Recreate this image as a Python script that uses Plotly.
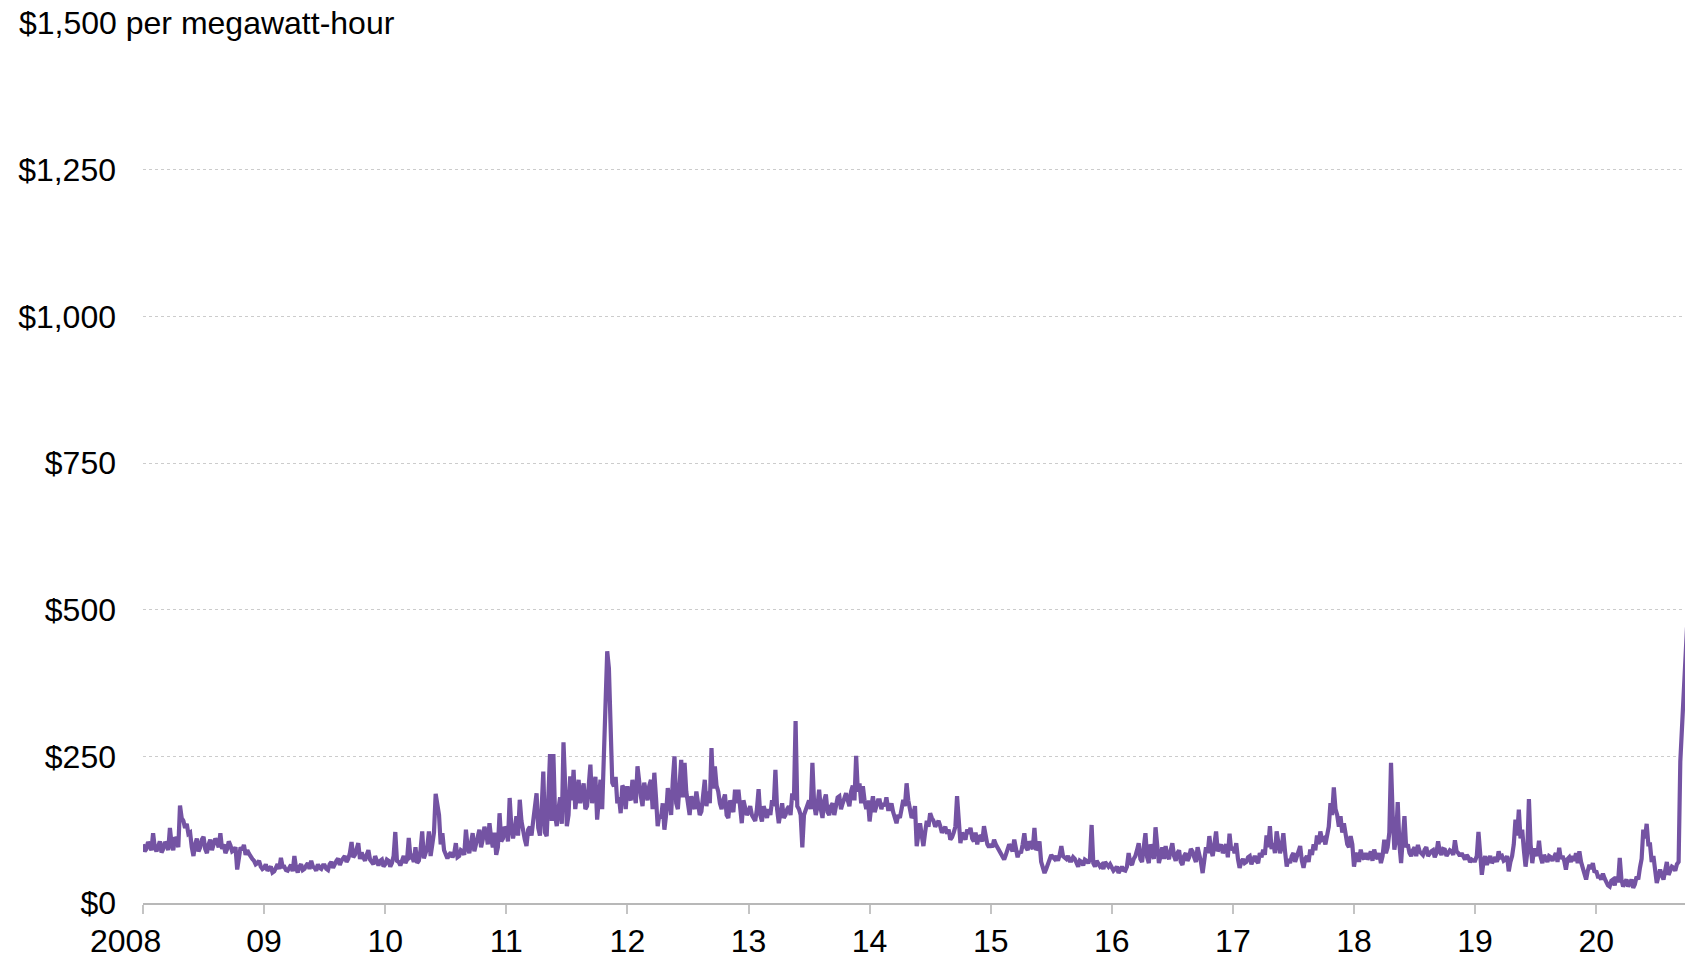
import plotly.graph_objects as go

# Electricity price, $ per megawatt-hour.
# p-arrays: readings at 36 evenly spaced dates per year; q-arrays: readings halfway between them.
p2008 = [100, 92, 98, 119, 88, 105, 92, 100, 128, 90, 108, 166, 140, 135, 120, 80, 110, 95,
         113, 85, 108, 98, 104, 119, 100, 92, 98, 90, 57, 95, 99, 90, 78, 72, 68, 62]
q2008 = [88, 104, 90, 95, 100, 86, 104, 90, 100, 112, 95, 145, 128, 118, 95, 100, 88, 108,
         92, 100, 90, 110, 95, 92, 85, 105, 88, 95, 80, 90, 82, 84, 75, 66, 72, 58]
p2009 = [60, 55, 62, 54, 66, 77, 62, 55, 65, 80, 52, 66, 58, 68, 72, 60, 66, 58,
         64, 56, 70, 68, 76, 72, 80, 75, 104, 82, 102, 86, 72, 90, 70, 80, 64, 74]
q2009 = [66, 58, 52, 60, 58, 62, 56, 60, 54, 60, 62, 56, 64, 58, 62, 55, 60, 64,
         58, 66, 60, 72, 65, 78, 70, 85, 78, 92, 75, 78, 82, 74, 66, 70, 72, 62]
p2010 = [66, 72, 68, 121, 70, 75, 68, 111, 80, 95, 72, 122, 85, 122, 100, 186, 150, 119,
         80, 82, 78, 102, 80, 88, 125, 85, 119, 100, 125, 108, 120, 136, 95, 82, 153, 110]
q2010 = [74, 62, 80, 72, 64, 80, 74, 78, 70, 68, 90, 76, 95, 80, 120, 160, 100, 90,
         76, 86, 84, 78, 90, 82, 95, 100, 88, 115, 95, 130, 100, 110, 120, 95, 105, 130]
p2011 = [125, 179, 110, 148, 176, 120, 97, 130, 140, 187, 115, 224, 114, 254, 254, 131, 180, 274,
         131, 216, 227, 190, 170, 204, 165, 236, 200, 142, 210, 240, 429, 260, 199, 170, 153, 195]
q2011 = [105, 130, 125, 115, 140, 108, 125, 115, 165, 128, 160, 120, 180, 140, 150, 160, 135, 200,
         150, 175, 160, 210, 185, 160, 200, 170, 215, 180, 160, 300, 400, 205, 215, 180, 200, 160]
p2012 = [199, 175, 187, 233, 182, 205, 175, 210, 222, 131, 145, 125, 196, 150, 250, 160, 244, 239,
         165, 182, 160, 170, 156, 210, 190, 264, 233, 190, 160, 185, 145, 165, 193, 193, 136, 160]
q2012 = [180, 210, 170, 200, 165, 190, 200, 160, 180, 150, 170, 150, 175, 210, 170, 200, 180, 190,
         150, 170, 190, 150, 180, 165, 170, 195, 200, 170, 175, 150, 175, 155, 170, 160, 175, 150]
p2013 = [155, 150, 140, 194, 139, 155, 160, 175, 227, 136, 170, 150, 165, 187, 310, 160, 95, 159,
         175, 239, 150, 193, 145, 185, 150, 170, 165, 182, 170, 187, 165, 200, 251, 204, 199, 160]
q2013 = [165, 145, 160, 150, 165, 145, 150, 165, 160, 160, 145, 160, 150, 175, 165, 150, 150, 170,
         160, 170, 165, 160, 175, 155, 165, 150, 180, 160, 180, 175, 190, 175, 190, 170, 175, 175]
p2014 = [139, 182, 165, 175, 170, 180, 160, 155, 136, 145, 176, 204, 160, 150, 97, 136, 97, 140,
         153, 140, 135, 131, 125, 118, 108, 120, 182, 102, 115, 125, 128, 105, 100, 112, 131, 100]
q2014 = [165, 155, 175, 160, 165, 160, 170, 145, 150, 160, 165, 175, 145, 165, 125, 115, 120, 130,
         145, 130, 140, 120, 130, 125, 112, 130, 125, 120, 108, 118, 110, 120, 115, 105, 110, 95]
p2015 = [100, 108, 95, 85, 74, 90, 95, 108, 78, 85, 119, 90, 100, 128, 95, 70, 51, 65,
         82, 75, 72, 97, 78, 80, 72, 75, 62, 70, 74, 68, 133, 62, 68, 65, 70, 62]
q2015 = [95, 100, 90, 80, 82, 100, 88, 95, 88, 100, 95, 105, 92, 90, 105, 60, 58, 75,
         78, 80, 82, 80, 75, 72, 78, 68, 72, 64, 72, 75, 68, 72, 62, 58, 64, 66]
p2016 = [60, 58, 51, 62, 55, 85, 65, 80, 102, 70, 119, 68, 90, 129, 68, 95, 97, 75,
         102, 72, 90, 65, 85, 78, 88, 70, 85, 51, 95, 114, 80, 122, 95, 85, 100, 118]
q2016 = [55, 62, 58, 56, 62, 68, 75, 90, 75, 95, 78, 100, 75, 95, 80, 75, 80, 90,
         80, 85, 70, 80, 72, 92, 78, 95, 70, 80, 85, 90, 100, 88, 100, 95, 78, 90]
p2017 = [95, 102, 60, 75, 70, 80, 74, 72, 85, 91, 115, 131, 102, 122, 85, 119, 62, 68,
         85, 80, 97, 60, 80, 91, 100, 115, 122, 110, 119, 170, 197, 150, 148, 136, 100, 114]
q2017 = [85, 75, 70, 68, 78, 66, 80, 68, 78, 82, 95, 92, 85, 98, 95, 88, 75, 80,
         70, 88, 72, 75, 70, 82, 90, 100, 108, 100, 130, 150, 160, 130, 120, 115, 95, 100]
p2018 = [62, 85, 91, 75, 74, 88, 91, 75, 68, 108, 95, 239, 91, 172, 68, 148, 100, 80,
         95, 99, 85, 91, 80, 88, 78, 105, 82, 91, 85, 88, 107, 85, 85, 74, 78, 74]
q2018 = [80, 70, 78, 85, 80, 72, 80, 85, 80, 85, 120, 150, 110, 100, 110, 95, 85, 90,
         80, 88, 82, 95, 85, 90, 85, 88, 92, 80, 90, 82, 88, 80, 78, 82, 70, 72]
p2019 = [72, 121, 48, 80, 74, 68, 78, 88, 80, 74, 54, 80, 142, 159, 125, 62, 177, 68,
         90, 106, 68, 75, 80, 72, 85, 94, 80, 57, 78, 80, 85, 88, 60, 40, 65, 68]
q2019 = [80, 85, 70, 65, 80, 75, 70, 78, 72, 80, 70, 100, 115, 110, 90, 85, 100, 90,
         80, 78, 82, 70, 78, 80, 70, 75, 72, 75, 70, 72, 68, 70, 52, 55, 58, 52]
p2020 = [55, 45, 50, 35, 28, 40, 45, 77, 28, 40, 35, 26, 45, 60, 125, 135, 100, 80,
         34, 57, 40, 70, 55, 60, 66, 241, 350, 470]
q2020 = [45, 40, 42, 30, 38, 30, 35, 40, 35, 28, 40, 32, 40, 75, 110, 100, 70, 50,
         45, 48, 55, 48, 62, 55, 70, 300, 410]

years = list(range(2008, 2021))
p_series = [p2008, p2009, p2010, p2011, p2012, p2013, p2014, p2015, p2016, p2017, p2018, p2019, p2020]
q_series = [q2008, q2009, q2010, q2011, q2012, q2013, q2014, q2015, q2016, q2017, q2018, q2019, q2020]
SAMPLES_PER_YEAR = 36

year_labels = [""] + ["09", "10", "11", "12", "13", "14", "15", "16", "17", "18", "19", "20"]
y_ticks = [0, 250, 500, 750, 1000, 1250, 1500]
y_labels = ["$0", "$250", "$500", "$750", "$1,000", "$1,250", ""]

pts = []
for yr, ps, qs in zip(years, p_series, q_series):
    for i, v in enumerate(ps):
        pts.append((yr + i / SAMPLES_PER_YEAR, v))
    for i, v in enumerate(qs):
        pts.append((yr + (i + 0.5) / SAMPLES_PER_YEAR, v))
pts.sort()
x = [p[0] for p in pts]
y = [p[1] for p in pts]

FONT = "Liberation Sans, Arial, sans-serif"
W, H = 1685, 958
L, R, T, B = 143, 0, 23, 55
x_end = 2008 + (W - L) / 121.1

fig = go.Figure()
fig.add_trace(go.Scatter(x=x, y=y, mode="lines",
                         line=dict(color="#7453a3", width=4.2),
                         hoverinfo="skip", showlegend=False))

fig.update_layout(
    width=W, height=H,
    margin=dict(l=L, r=R, t=T, b=B, pad=0, autoexpand=False),
    paper_bgcolor="white", plot_bgcolor="white",
    font=dict(family=FONT, size=32, color="#000"),
    xaxis=dict(range=[2008, x_end], tickvals=years, ticktext=year_labels, automargin=False,
               showgrid=False, zeroline=False, showline=True, linecolor="#b8b8b8", linewidth=1.5,
               ticks="outside", ticklen=9, tickwidth=1.5, tickcolor="#c4c4c4",
               ticklabelstandoff=0, tickfont=dict(size=32)),
    yaxis=dict(range=[0, 1500], tickvals=y_ticks, ticktext=y_labels, automargin=False,
               showgrid=True, gridcolor="#cccccc", gridwidth=1, griddash="dot",
               zeroline=False, showline=False, ticks="", ticklabelstandoff=26,
               tickfont=dict(size=32)),
)

fig.add_annotation(text="$1,500 per megawatt-hour", xref="paper", yref="y",
                   x=(18 - 14 - L) / (W - L - R), y=1500, xanchor="left", yanchor="middle",
                   showarrow=False, bgcolor="white", borderpad=14,
                   font=dict(family=FONT, size=32, color="#000"))
fig.add_annotation(text="2008", xref="x", yref="paper", x=2008, y=0, xshift=-18,
                   xanchor="center", yanchor="top", yshift=-18, showarrow=False,
                   font=dict(family=FONT, size=32, color="#000"))

fig.write_html("out.html", config={"displayModeBar": False},
               post_script="document.body.style.margin='0';")
